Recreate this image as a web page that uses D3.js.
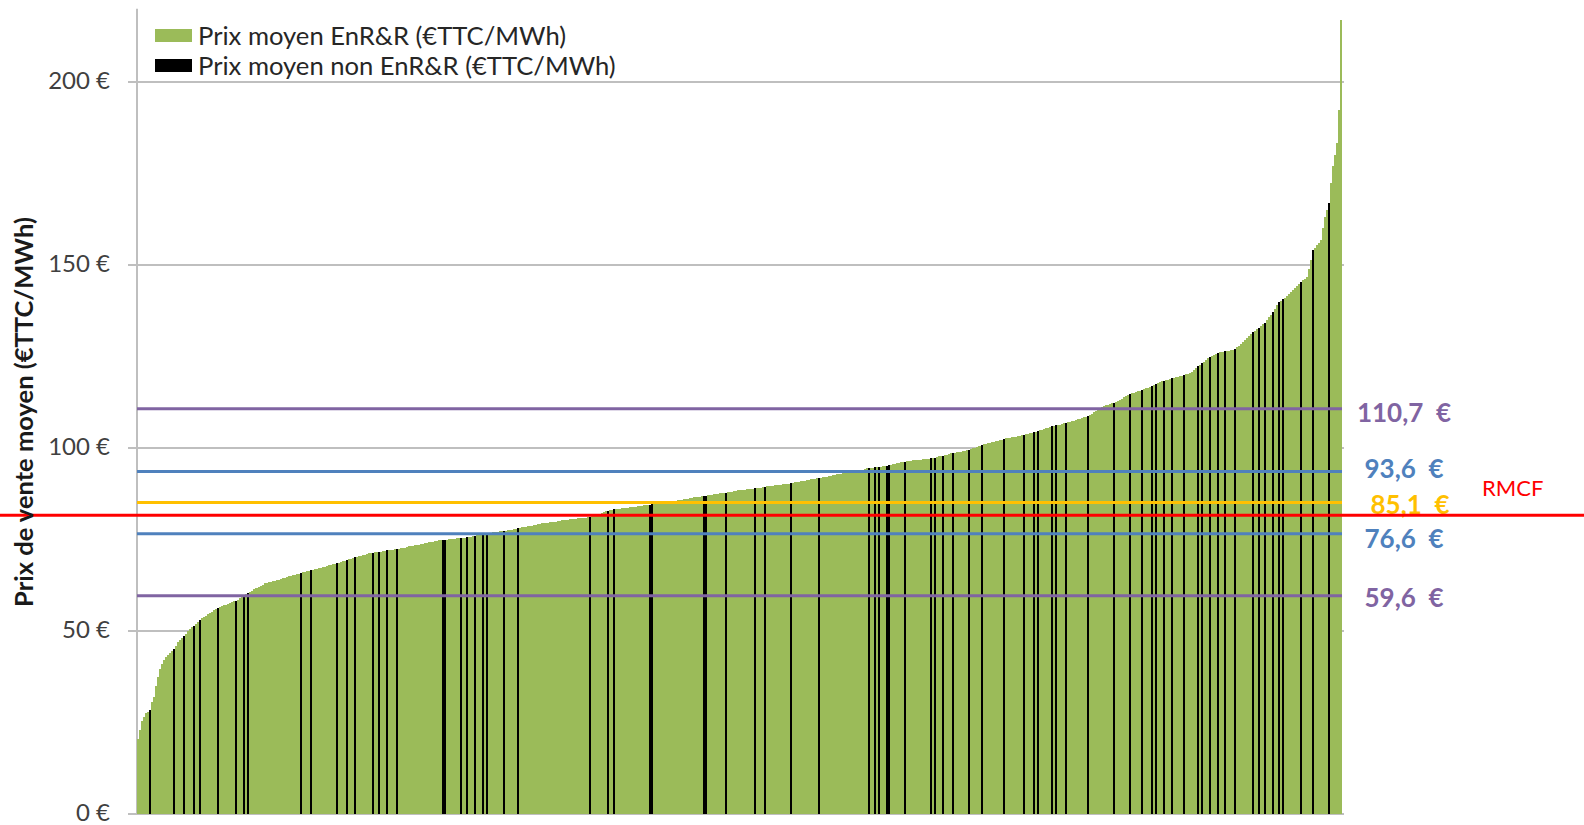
<!DOCTYPE html>
<html><head><meta charset="utf-8">
<script src="https://cdn.jsdelivr.net/npm/d3@7/dist/d3.min.js"></script>
<style>body{margin:0;background:#fff;overflow:hidden} text{font-family:Lato,"Open Sans",sans-serif}</style>
</head><body><svg id="c" width="1584" height="825"></svg>
<script>
// Average sale price per network, sorted ascending (€TTC/MWh)
const prices = [
20.5,23,25.5,26.5,27.5,28,28.5,30.5,32,35,37.5,39.5,41,42,43,43.5,44,
44.5,45,46,47,47.5,48,48.5,49.2,50,50.5,51,
51.5,52,52.5,53,53.5,53.8,54.2,54.6,55,55.3,55.7,56,56.3,
56.5,56.8,57,57.2,57.5,57.7,57.9,58.1,58.3,58.5,
58.9,59.3,59.7,60,60.4,60.7,
61,61.4,61.8,62.1,62.4,62.7,63,
63.2,63.3,63.5,63.6,63.7,63.9,64,
64.2,64.4,64.5,64.7,64.9,65,65.2,65.4,65.5,65.7,65.8,
66,66.1,66.3,66.4,66.6,66.7,66.9,67,67.2,67.3,67.5,67.6,67.8,67.9,68,68.2,68.3,68.5,68.6,
68.8,69,69.2,69.4,69.6,69.8,70,70.2,
70.3,70.5,70.6,70.7,70.9,71,71.2,71.3,
71.4,71.5,71.6,71.7,71.7,71.8,71.9,72,72.1,72.1,72.2,72.3,72.4,
72.5,72.6,72.7,72.8,73,73.1,73.2,73.3,73.4,73.5,73.6,73.7,73.8,74,74.1,74.2,74.3,74.4,74.5,74.6,74.8,74.9,
74.9,75,75,75.1,75.1,75.2,75.2,75.3,75.3,75.4,75.4,
75.5,75.6,75.7,75.8,75.9,76,76.1,76.3,76.4,76.5,76.6,76.8,
76.8,76.9,77,77,77.1,77.2,77.2,77.3,
77.4,77.5,77.6,77.7,77.8,78,78.1,78.2,78.3,78.4,78.5,78.6,78.7,78.8,78.9,79,79.2,79.3,
79.4,79.5,79.5,79.6,79.7,79.8,79.8,79.9,80,80.1,80.2,80.2,80.3,80.4,80.5,80.5,80.6,80.7,80.8,80.8,80.9,81,81,81.1,81.2,
81.3,81.5,81.7,81.9,82.1,82.3,82.5,82.7,82.9,
83,83.1,83.2,83.2,83.3,83.4,83.5,83.5,83.6,83.7,83.8,83.8,83.9,84,84.1,84.1,84.2,84.3,84.4,84.4,84.5,84.6,84.6,84.7,84.8,84.9,84.9,85,
85.1,85.2,85.3,85.4,85.5,85.6,85.7,85.8,85.9,86,86.1,86.2,86.3,86.4,86.5,86.6,86.6,86.7,86.8,86.9,
87,87.1,87.2,87.2,87.3,87.4,87.5,87.6,87.7,87.7,87.8,87.9,88,88.1,88.2,88.3,88.4,88.5,
88.6,88.6,88.7,88.8,88.9,88.9,89,89.1,89.2,89.2,89.3,89.4,89.5,89.5,89.6,89.7,89.8,89.8,89.9,90,90.1,90.1,90.2,90.3,90.4,
90.5,90.6,90.7,90.8,90.9,91,91.1,91.2,91.3,91.4,91.5,91.6,91.7,91.8,
91.9,92,92.1,92.2,92.3,92.4,92.5,92.7,92.8,92.9,93,93.1,93.2,93.3,93.4,93.5,93.6,93.7,93.8,93.9,94,94.1,94.2,94.4,94.5,
94.6,94.6,94.7,94.8,94.8,94.9,95,95,95.1,
95.3,95.4,95.6,95.7,95.8,95.9,96.1,96.2,
96.3,96.4,96.4,96.5,96.6,96.6,96.7,96.8,96.8,96.9,97,97,97.1,97.2,
97.3,97.4,97.6,97.7,97.8,97.9,98,98.2,98.3,98.5,98.6,
98.7,98.8,98.9,99,99.1,99.2,99.4,99.5,
99.7,99.9,100.1,100.3,100.6,100.8,
101,101.1,101.3,101.4,101.6,101.7,101.9,102,102.2,102.3,102.5,
102.6,102.7,102.8,102.9,103,103.1,103.2,103.3,103.5,103.6,
103.7,103.9,104,104.2,104.3,104.5,104.6,
104.8,105,105.2,105.4,105.6,105.8,106,
106.1,106.2,106.3,106.4,106.6,106.7,106.8,
107,107.2,107.3,107.5,107.7,107.8,108,108.2,108.4,108.5,108.7,
109,109.4,109.7,110.1,110.4,110.8,111.1,111.5,
111.7,111.8,112,112.2,112.3,
112.6,112.9,113.2,113.5,113.9,114.2,114.5,114.8,
115,115.1,115.3,115.5,115.6,115.8,
116,116.3,116.5,116.8,117,117.3,117.5,117.8,118,118.3,
118.4,118.6,118.7,118.9,119,
119.1,119.3,119.4,119.6,119.7,119.9,
120.1,120.3,120.6,120.8,
121.3,121.9,122.4,
122.8,123.2,123.6,124.1,124.5,124.9,
125.2,125.4,125.7,125.9,126.2,
126.3,126.4,126.5,126.6,126.8,126.9,127,
127.5,128,128.5,129,129.5,
130,130.6,131.1,131.7,
132.1,132.5,132.9,133.4,133.8,134.2,
134.9,135.7,136.4,137.2,
138.1,139,139.9,
140.3,140.6,141,
141.5,142.1,142.6,143.2,143.7,144.3,144.8,145.4,
145.8,146.3,146.7,
149,151.5,154,
154.7,155.4,156.1,156.8,
160,163,165,167,
172.4,177,180,183.3,192.3,217
];
// positions (in the sorted list) of networks that are not EnR&R
const nonEnrIdx = [6,18,23,28,31,40,49,53,55,81,86,99,104,108,117,120,124,129,152,153,161,164,168,172,174,182,189,
225,234,237,255,256,282,283,293,307,312,325,339,364,367,369,373,374,382,395,397,401,406,414,420,431,441,446,448,
455,457,462,473,486,494,500,505,507,511,515,521,528,530,534,538,541,546,555,558,561,565,568,570,579,585,593];
const yTicks = [0,50,100,150,200];
const yTickLabels = ["0 €","50 €","100 €","150 €","200 €"];
const refValues = [110.7, 93.6, 85.1, 76.6, 59.6];
const refLabels = ["110,7  €","93,6  €","85,1  €","76,6  €","59,6  €"];
const rmcfValue = 81.6;
const rmcfLabel = "RMCF";
const legendLabels = ["Prix moyen EnR&R (€TTC/MWh)","Prix moyen non EnR&R (€TTC/MWh)"];
const yTitle = "Prix de vente moyen (€TTC/MWh)";

// styles / layout
const GREEN = "#9BBB59", BLACK = "#000000";
const refColors = ["#8064A2","#4F81BD","#FFC000","#4F81BD","#8064A2"];
const refLabelDy = [3.4, -2.7, 2.6, 4.8, 2.1];
const refLabelDx = [0, 0, 6, 0, 0];
const GRID = "#BFBFBF";

const svg = d3.select("#c");
svg.append("rect").attr("width",1584).attr("height",825).attr("fill","#fff");
const left = 137, right = 1342, bottom = 814;
const x = d3.scaleBand().domain(d3.range(prices.length)).range([left, right]).padding(0);
const y = d3.scaleLinear().domain([0,200]).range([bottom, 82]);
const black = new Set(nonEnrIdx);

// gridlines
svg.append("g").selectAll("line").data(yTicks).join("line")
  .attr("x1", left - 9).attr("x2", right + 2)
  .attr("y1", d=>y(d)).attr("y2", d=>y(d))
  .attr("stroke", GRID).attr("stroke-width", 2);
// y axis line
svg.append("line").attr("x1",left).attr("x2",left).attr("y1",y(0)).attr("y2",y(220))
  .attr("stroke",GRID).attr("stroke-width",2);

// bars
svg.append("g").attr("shape-rendering","crispEdges").selectAll("rect").data(prices).join("rect")
  .attr("x",(d,i)=>x(i)).attr("width",x.bandwidth()+0.01)
  .attr("y",d=>y(d)).attr("height",d=>y(0)-y(d))
  .attr("fill",(d,i)=>black.has(i)?BLACK:GREEN);

// tick labels
svg.append("g").selectAll("text").data(yTicks).join("text")
  .attr("x",110).attr("y",d=>y(d)).attr("dy","0.3em").attr("text-anchor","end")
  .attr("font-size",24).attr("fill","#404040").text((d,i)=>yTickLabels[i]);

// reference lines
svg.append("g").selectAll("line").data(refValues).join("line")
  .attr("x1",left).attr("x2",right).attr("y1",d=>y(d)).attr("y2",d=>y(d))
  .attr("stroke",(d,i)=>refColors[i]).attr("stroke-width",3);
svg.append("g").selectAll("text").data(refValues).join("text")
  .attr("x",(d,i)=>1404+refLabelDx[i]).attr("y",(d,i)=>y(d)+refLabelDy[i]).attr("dy","0.36em").attr("text-anchor","middle")
  .style("white-space","pre")
  .attr("font-size",26).attr("font-weight","bold").attr("fill",(d,i)=>refColors[i])
  .text((d,i)=>refLabels[i]);

// RMCF
svg.append("line").attr("x1",0).attr("x2",1584).attr("y1",y(rmcfValue)).attr("y2",y(rmcfValue))
  .attr("stroke","#FF0000").attr("stroke-width",3);
svg.append("text").attr("x",1482).attr("y",488).attr("dy","0.36em").attr("font-size",22)
  .attr("fill","#FF0000").text(rmcfLabel);

// y title
svg.append("text").attr("transform","translate(33,412) rotate(-90)")
  .attr("text-anchor","middle").attr("font-size",25.5).attr("font-weight","bold").attr("fill","#1a1a1a")
  .text(yTitle);

// legend
const lg = svg.append("g");
[GREEN, BLACK].forEach((c,i)=>{
  lg.append("rect").attr("x",155).attr("y",29+i*30).attr("width",37).attr("height",13).attr("fill",c);
  lg.append("text").attr("x",198).attr("y",36+i*30).attr("dy","0.36em").attr("font-size",25.6)
    .attr("fill","#262626").text(legendLabels[i]);
});
</script></body></html>
